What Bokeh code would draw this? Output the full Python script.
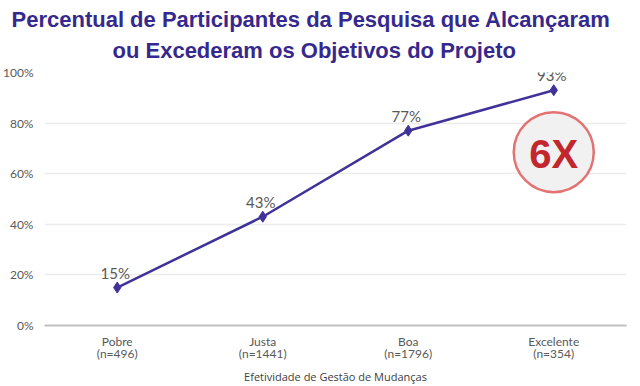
from bokeh.plotting import figure
from bokeh.models import Title, ColumnDataSource, FixedTicker, Range1d, LinearAxis
from bokeh.core.properties import value
from bokeh.embed import file_html
from bokeh.resources import INLINE

categories = ["Pobre", "Justa", "Boa", "Excelente"]
counts = ["(n=496)", "(n=1441)", "(n=1796)", "(n=354)"]
percent = [15, 43, 77, 93]
y_ticks = [0, 20, 40, 60, 80, 100]
badge_text = "6X"
badge_x = 3
badge_y = 68.5
title_lines = ["Percentual de Participantes da Pesquisa que Alcançaram",
               "ou Excederam os Objetivos do Projeto"]

xs = list(range(len(categories)))

p = figure(frame_width=582, frame_height=253, output_backend="svg", toolbar_location=None,
           x_range=Range1d(-0.5, 3.5), y_range=Range1d(0, 100),
           min_border_left=32, min_border_right=7, min_border_bottom=0, min_border_top=0,
           x_axis_location=None)
p.outline_line_color = None
p.background_fill_color = "white"

title_style = dict(align="left", text_font="Liberation Sans", text_font_size="22px",
                   text_font_style="bold", text_color="#36298d")
spacer_bottom = Title(text=" ", align="center", text_font_size="2px", standoff=2)
t2 = Title(text=title_lines[1], standoff=8, offset=68, **title_style)
t1 = Title(text=title_lines[0], standoff=0, offset=-33, **title_style)
spacer_top = Title(text=" ", align="center", text_font_size="2px", standoff=0)
p.add_layout(spacer_bottom, "above")
p.add_layout(t2, "above")
p.add_layout(t1, "above")
p.add_layout(spacer_top, "above")

src = ColumnDataSource(dict(x=xs, y=percent, lab=[f"{v}%" for v in percent]))
p.line("x", "y", source=src, line_color="#3f3399", line_width=2.5)
p.scatter("x", "y", source=src, marker="diamond", size=11, color="#3f3399")
p.text("x", "y", text="lab", source=src, x_offset=-2, y_offset=-6,
       text_align="center", text_baseline="bottom",
       text_font=value("Lato"), text_font_size="15px", text_color="#595959")

# badge
p.scatter([badge_x], [badge_y], marker="circle", size=80, fill_color="#f1f1f1",
          line_color="#e37373", line_width=2.5)
p.text([badge_x], [badge_y], text=[badge_text], text_align="center", text_baseline="middle",
       text_font=value("Liberation Sans"), text_font_style="bold", text_font_size="40px",
       text_color="#c1272d", y_offset=2)

p.yaxis.ticker = FixedTicker(ticks=y_ticks)
p.yaxis.major_label_overrides = {v: f"{v}%" for v in y_ticks}
p.yaxis.axis_line_color = None
p.yaxis.major_tick_line_color = None
p.yaxis.minor_tick_line_color = None
p.yaxis.major_label_text_font = "Lato"
p.yaxis.major_label_text_font_size = "12px"
p.yaxis.major_label_text_color = "#595959"
p.yaxis.major_label_standoff = 5

ax1 = LinearAxis(ticker=FixedTicker(ticks=xs),
                 major_label_overrides={i: c for i, c in enumerate(categories)})
ax1.axis_line_color = "#bfbfbf"
ax1.axis_line_width = 2
ax2 = LinearAxis(ticker=FixedTicker(ticks=xs),
                 major_label_overrides={i: n for i, n in enumerate(counts)})
ax2.axis_line_color = None
for ax in (ax1, ax2):
    ax.major_tick_line_color = None
    ax.minor_tick_line_color = None
    ax.major_tick_out = 0
    ax.major_tick_in = 0
    ax.major_label_text_font = "Lato"
    ax.major_label_text_font_size = "12px"
    ax.major_label_text_color = "#595959"
ax1.major_label_standoff = 8
ax2.major_label_standoff = -6
ax2.axis_label = "Efetividade de Gestão de Mudanças"
ax2.axis_label_text_font = "Open Sans"
ax2.axis_label_text_font_style = "normal"
ax2.axis_label_text_font_size = "11px"
ax2.axis_label_text_color = "#404040"
ax2.axis_label_standoff = 5
p.add_layout(ax1, "below")
p.add_layout(ax2, "below")

p.xgrid.grid_line_color = None
p.ygrid.grid_line_color = "#ececec"
p.ygrid.grid_line_width = 1.5

open("out.html", "w").write(file_html(p, INLINE))
